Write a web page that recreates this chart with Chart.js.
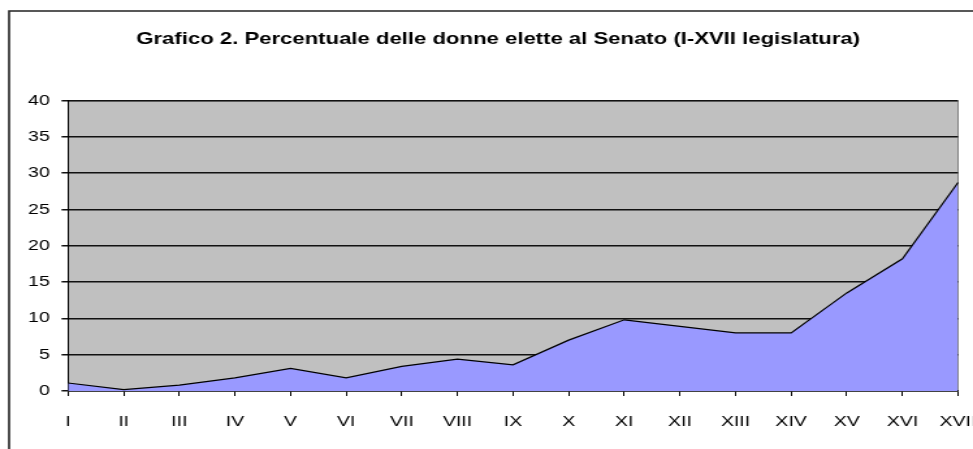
<!DOCTYPE html>
<html>
<head>
<meta charset="utf-8">
<script src="https://cdn.jsdelivr.net/npm/chart.js@4"></script>
<style>
  html, body { margin: 0; padding: 0; background: #fff; overflow: hidden; }
  /* il grafico originale e' leggermente allargato in orizzontale */
  #grafico { display: block; width: 973px !important; height: 449px !important; }
</style>
</head>
<body>
<canvas id="grafico" width="748" height="449"></canvas>
<script>
// legislature e percentuali di donne elette al Senato
const legislature = ["I", "II", "III", "IV", "V", "VI", "VII", "VIII", "IX",
  "X", "XI", "XII", "XIII", "XIV", "XV", "XVI", "XVII"];
const percentuali = [1.1, 0.2, 0.8, 1.8, 3.1, 1.8, 3.4, 4.4, 3.6,
  7.0, 9.8, 8.9, 8.0, 8.0, 13.5, 18.2, 28.7];
const tickY = [0, 5, 10, 15, 20, 25, 30, 35, 40];

const FONT = "Liberation Sans, Arial, sans-serif";

// sfondo grigio dell'area del grafico e cornice esterna
const sfondo = {
  id: "sfondo",
  beforeDraw(chart) {
    const { ctx, chartArea } = chart;
    ctx.save();
    ctx.fillStyle = "#c0c0c0";
    ctx.fillRect(chartArea.left, chartArea.top,
      chartArea.right - chartArea.left, chartArea.bottom - chartArea.top);
    ctx.strokeStyle = "#808080";
    ctx.lineWidth = 1;
    ctx.beginPath();
    ctx.moveTo(chartArea.left, chartArea.top + 0.5);
    ctx.lineTo(chartArea.right, chartArea.top + 0.5);
    ctx.lineTo(chartArea.right, chartArea.bottom);
    ctx.stroke();
    // cornice
    ctx.strokeStyle = "#222";
    ctx.lineWidth = 1.6;
    ctx.beginPath();
    ctx.moveTo(7, chart.height);
    ctx.lineTo(7, 11);
    ctx.lineTo(chart.width, 11);
    ctx.stroke();
    ctx.restore();
  }
};

const ctx = document.getElementById("grafico").getContext("2d");
const chart = new Chart(ctx, {
  type: "line",
  data: {
    labels: legislature,
    datasets: [
      {
        data: percentuali,
        backgroundColor: "#9999ff",
        borderColor: "#000",
        borderWidth: 1.2,
        fill: "origin",
        tension: 0,
        pointRadius: 0,
      },
    ],
  },
  options: {
    responsive: false,
    devicePixelRatio: 1,
    animation: false,
    layout: { padding: { left: 18, right: 0, top: 0, bottom: 0 } },
    plugins: {
      legend: { display: false },
      tooltip: { enabled: false },
      title: {
        display: true,
        text: "Grafico 2. Percentuale delle donne elette al Senato (I-XVII legislatura)",
        color: "#000",
        font: { family: FONT, size: 17, weight: "bold" },
        padding: { top: 29, bottom: 51 }
      }
    },
    scales: {
      x: {
        offset: false,
        grid: {
          drawOnChartArea: false,
          color: "#000",
          tickLength: 5,
        },
        border: { color: "#000", width: 1.5 },
        ticks: {
          color: "#000",
          autoSkip: false,
          maxRotation: 0,
          padding: 17,
          font: { family: FONT, size: 15 }
        },
        afterFit: (s) => { s.height = 58; s.paddingRight = 11.5; }
      },
      y: {
        min: 0,
        max: 40,
        afterBuildTicks: (s) => { s.ticks = tickY.map((v) => ({ value: v })); },
        grid: {
          color: "#111",
          lineWidth: 1.5,
          tickLength: 5,
        },
        border: { color: "#000", width: 1 },
        ticks: {
          color: "#000",
          padding: 9,
          font: { family: FONT, size: 15 }
        },
        afterFit: (s) => { s.width = 34.3; }
      }
    }
  },
  plugins: [sfondo]
});
</script>
</body>
</html>
